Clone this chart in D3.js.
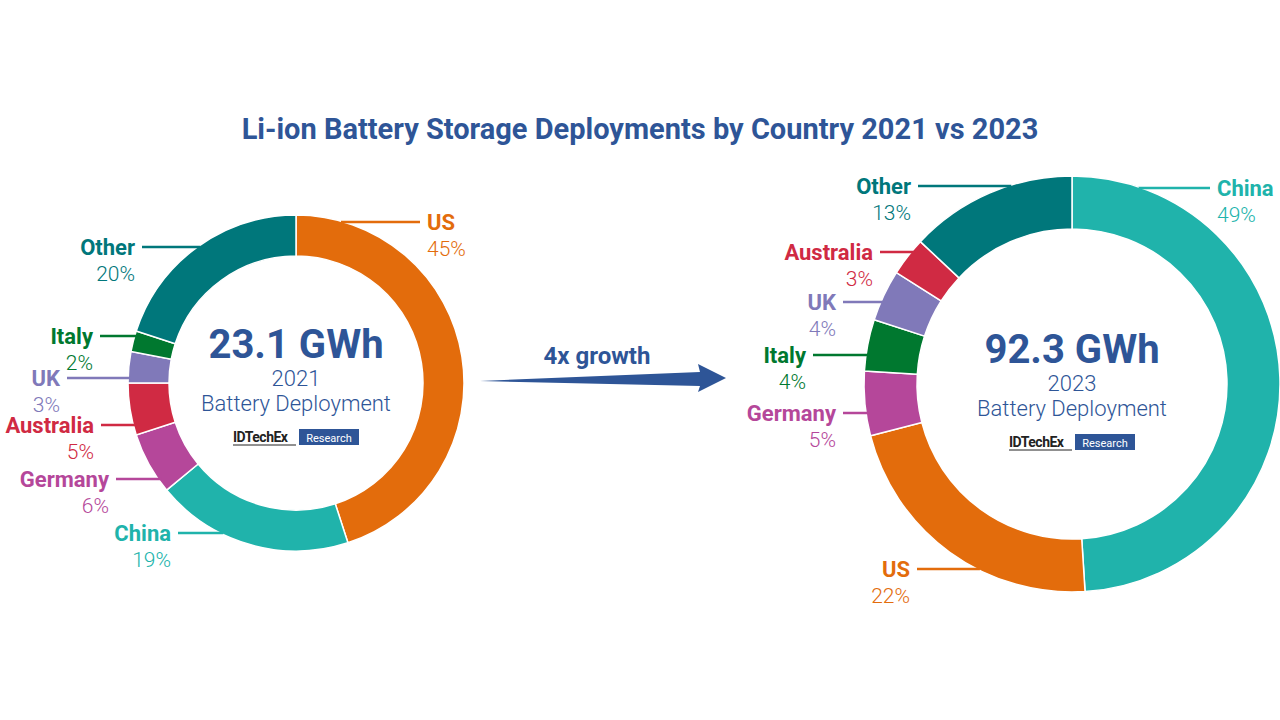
<!DOCTYPE html>
<html><head><meta charset="utf-8">
<script src="https://cdn.jsdelivr.net/npm/d3@7"></script>
<style>body{margin:0;background:#fff;font-family:Roboto,sans-serif}</style>
</head><body>
<svg id="c" width="1280" height="720"></svg>
<script>
// data
const countries2021 = ["US", "China", "Germany", "Australia", "UK", "Italy", "Other"];
const share2021 = [45, 19, 6, 5, 3, 2, 20];
const countries2023 = ["China", "US", "Germany", "Italy", "UK", "Australia", "Other"];
const share2023 = [49, 22, 5, 4, 4, 3, 13];
const totals = ["23.1 GWh", "92.3 GWh"];
const years = ["2021", "2023"];

const colors = {US: "#e36c0c", China: "#20b3ab", Germany: "#b5479a", Australia: "#d02a43",
  UK: "#8079b9", Italy: "#00782f", Other: "#00777b"};
const blue = "#2e5597";

// label layout (hand placed like the original): [textX, lineY, side]
const labels2021 = {US: [427, 222, 1], Other: [135, 247, -1], Italy: [93, 336, -1], UK: [60, 378, -1],
  Australia: [94, 425, -1], Germany: [109, 479, -1], China: [171, 533, -1]};
const labels2023 = {China: [1217, 188, 1], Other: [911, 186, -1], Australia: [873, 252, -1], UK: [836, 302, -1],
  Italy: [806, 355, -1], Germany: [836, 413, -1], US: [910, 569, -1]};

const svg = d3.select("#c");
svg.append("text").attr("x", 640).attr("y", 139).attr("text-anchor", "middle")
  .attr("fill", blue).attr("font-size", 29).attr("font-weight", 700)
  .text("Li-ion Battery Storage Deployments by Country 2021 vs 2023");

function donut(cx, cy, R, r, names, vals, labels, total, year, off) {
  const g = svg.append("g").attr("transform", `translate(${cx},${cy})`);
  const pie = d3.pie().sort(null).value(d => d.v);
  const arc = d3.arc().innerRadius(r).outerRadius(R);
  const data = names.map((n, i) => ({n, v: vals[i]}));
  g.selectAll("path").data(pie(data)).join("path")
    .attr("d", arc).attr("fill", d => colors[d.data.n]).attr("stroke", "#fff").attr("stroke-width", 1.5);
  data.forEach(d => {
    const [tx, ty, side] = labels[d.n];
    const ly = ty - cy;
    const edge = Math.sqrt(Math.max(0, R * R - ly * ly)) * side;
    svg.append("line").attr("x1", cx + edge - side * 3).attr("x2", tx - side * 7)
      .attr("y1", ty).attr("y2", ty).attr("stroke", colors[d.n]).attr("stroke-width", 2.5);
    const anchor = side > 0 ? "start" : "end";
    svg.append("text").attr("x", tx).attr("y", ty + 8).attr("text-anchor", anchor)
      .attr("fill", colors[d.n]).attr("font-size", 22).attr("font-weight", 700).text(d.n);
    svg.append("text").attr("x", tx).attr("y", ty + 34).attr("text-anchor", anchor)
      .attr("fill", colors[d.n]).attr("font-size", 21).attr("font-weight", 300).text(d.v + "%");
  });
  g.append("text").attr("y", off - 25).attr("text-anchor", "middle").attr("fill", blue)
    .attr("font-size", 40).attr("font-weight", 700).text(total);
  g.append("text").attr("y", off + 3).attr("text-anchor", "middle").attr("fill", blue)
    .attr("font-size", 22).attr("font-weight", 300).text(year);
  g.append("text").attr("y", off + 28).attr("text-anchor", "middle").attr("fill", blue)
    .attr("font-size", 22).attr("font-weight", 300).text("Battery Deployment");
  const lg = g.append("g").attr("transform", `translate(-63,${off + 46})`);
  lg.append("text").attr("x", 0).attr("y", 13).attr("font-size", 14).attr("font-weight", 700)
    .attr("fill", "#222").attr("letter-spacing", -0.5).text("IDTechEx");
  lg.append("line").attr("x1", 0).attr("x2", 63).attr("y1", 16).attr("y2", 16).attr("stroke", "#222");
  lg.append("rect").attr("x", 66).attr("y", 0).attr("width", 60).attr("height", 16).attr("fill", blue);
  lg.append("text").attr("x", 96).attr("y", 12.5).attr("text-anchor", "middle").attr("font-size", 11)
    .attr("fill", "#fff").text("Research");
}

donut(296, 383, 168, 127, countries2021, share2021, labels2021, totals[0], years[0], 0);
donut(1072, 384, 208, 155, countries2023, share2023, labels2023, totals[1], years[1], 4);

// arrow
svg.append("path").attr("d", "M480,381 L700,372 L698,364 L726,378 L698,392 L700,386 Z").attr("fill", blue);
svg.append("text").attr("x", 597).attr("y", 364).attr("text-anchor", "middle").attr("fill", blue)
  .attr("font-size", 24).attr("font-weight", 700).text("4x growth");
</script>
</body></html>
